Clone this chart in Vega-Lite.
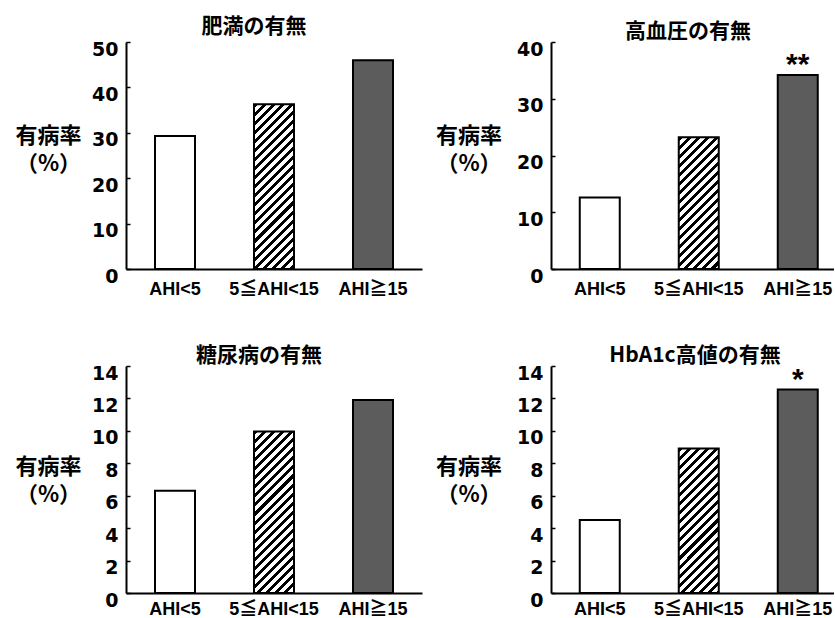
{
  "$schema": "https://vega.github.io/schema/vega-lite/v6.json",
  "background": "white",
  "padding": {"left": 14, "top": 16, "right": 0, "bottom": 0},
  "data": {"values": [
    {"panel": "obesity", "group": "AHI<5", "value": 29.3, "sig": ""},
    {"panel": "obesity", "group": "5≦AHI<15", "value": 36.3, "sig": ""},
    {"panel": "obesity", "group": "AHI≧15", "value": 46.0, "sig": ""},
    {"panel": "hypertension", "group": "AHI<5", "value": 12.6, "sig": ""},
    {"panel": "hypertension", "group": "5≦AHI<15", "value": 23.2, "sig": ""},
    {"panel": "hypertension", "group": "AHI≧15", "value": 34.2, "sig": "**"},
    {"panel": "diabetes", "group": "AHI<5", "value": 6.3, "sig": ""},
    {"panel": "diabetes", "group": "5≦AHI<15", "value": 9.96, "sig": ""},
    {"panel": "diabetes", "group": "AHI≧15", "value": 11.9, "sig": ""},
    {"panel": "hba1c", "group": "AHI<5", "value": 4.5, "sig": ""},
    {"panel": "hba1c", "group": "5≦AHI<15", "value": 8.91, "sig": ""},
    {"panel": "hba1c", "group": "AHI≧15", "value": 12.55, "sig": "*"}
  ]},
  "columns": 2,
  "spacing": {"row": 97, "column": 129},
  "bounds": "flush",
  "config": {
    "view": {"stroke": null},
    "title": {"font": "Noto Sans CJK JP", "fontSize": 21, "fontWeight": "bold", "color": "black", "baseline": "alphabetic", "offset": -2, "frame": "group", "anchor": "middle"},
    "axis": {"grid": false, "domainColor": "black", "domainWidth": 2, "labelColor": "black", "titleColor": "black", "tickColor": "black"},
    "axisX": {"ticks": false, "tickSize": 0, "labelAngle": 0, "labelFont": "Liberation Sans, Noto Sans CJK JP", "labelFontSize": 18, "labelFontWeight": "bold", "labelPadding": 11},
    "axisY": {"tickSize": -4, "tickWidth": 1.5, "labelFont": "DejaVu Sans", "labelFontSize": 19, "labelFontWeight": "bold", "labelPadding": 12, "labelOffset": 7, "titleAngle": 0, "titleFont": "Noto Sans CJK JP", "titleFontSize": 22, "titleFontWeight": "bold", "titleAlign": "center", "titleBaseline": "alphabetic", "titleLineHeight": 28}
  },
  "concat": [
    {
      "width": 296, "height": 227,
      "title": {"text": "肥満の有無", "dx": -20},
      "transform": [{"filter": "datum.panel === 'obesity'"}],
      "encoding": {
        "x": {"field": "group", "type": "nominal", "sort": ["AHI<5", "5≦AHI<15", "AHI≧15"], "title": null,
              "scale": {"paddingInner": 0.596, "paddingOuter": 0.293, "align": 0.5, "round": false}},
        "y": {"field": "value", "type": "quantitative", "scale": {"domain": [0, 50], "nice": false},
              "axis": {"values": [0, 10, 20, 30, 40, 50], "title": ["有病率", "（%）"], "titleX": -78, "titleY": 100}}
      },
      "layer": [
        {"mark": {"type": "bar", "stroke": "black", "strokeWidth": 2},
         "encoding": {"fill": {"condition": [
            {"test": "datum.group === '5≦AHI<15'", "value": {"gradient": "linear", "x1": 0, "y1": 0, "x2": 0.3147, "y2": 1.2966, "stops": [
              {"offset": 0, "color": "#000"}, {"offset": 0.018, "color": "#000"}, {"offset": 0.018, "color": "#fff"}, {"offset": 0.04, "color": "#fff"},
              {"offset": 0.04, "color": "#000"}, {"offset": 0.058, "color": "#000"}, {"offset": 0.058, "color": "#fff"}, {"offset": 0.08, "color": "#fff"},
              {"offset": 0.08, "color": "#000"}, {"offset": 0.098, "color": "#000"}, {"offset": 0.098, "color": "#fff"}, {"offset": 0.12, "color": "#fff"},
              {"offset": 0.12, "color": "#000"}, {"offset": 0.138, "color": "#000"}, {"offset": 0.138, "color": "#fff"}, {"offset": 0.16, "color": "#fff"},
              {"offset": 0.16, "color": "#000"}, {"offset": 0.178, "color": "#000"}, {"offset": 0.178, "color": "#fff"}, {"offset": 0.2, "color": "#fff"},
              {"offset": 0.2, "color": "#000"}, {"offset": 0.218, "color": "#000"}, {"offset": 0.218, "color": "#fff"}, {"offset": 0.24, "color": "#fff"},
              {"offset": 0.24, "color": "#000"}, {"offset": 0.258, "color": "#000"}, {"offset": 0.258, "color": "#fff"}, {"offset": 0.28, "color": "#fff"},
              {"offset": 0.28, "color": "#000"}, {"offset": 0.298, "color": "#000"}, {"offset": 0.298, "color": "#fff"}, {"offset": 0.32, "color": "#fff"},
              {"offset": 0.32, "color": "#000"}, {"offset": 0.338, "color": "#000"}, {"offset": 0.338, "color": "#fff"}, {"offset": 0.36, "color": "#fff"},
              {"offset": 0.36, "color": "#000"}, {"offset": 0.378, "color": "#000"}, {"offset": 0.378, "color": "#fff"}, {"offset": 0.4, "color": "#fff"},
              {"offset": 0.4, "color": "#000"}, {"offset": 0.418, "color": "#000"}, {"offset": 0.418, "color": "#fff"}, {"offset": 0.44, "color": "#fff"},
              {"offset": 0.44, "color": "#000"}, {"offset": 0.458, "color": "#000"}, {"offset": 0.458, "color": "#fff"}, {"offset": 0.48, "color": "#fff"},
              {"offset": 0.48, "color": "#000"}, {"offset": 0.498, "color": "#000"}, {"offset": 0.498, "color": "#fff"}, {"offset": 0.52, "color": "#fff"},
              {"offset": 0.52, "color": "#000"}, {"offset": 0.538, "color": "#000"}, {"offset": 0.538, "color": "#fff"}, {"offset": 0.56, "color": "#fff"},
              {"offset": 0.56, "color": "#000"}, {"offset": 0.578, "color": "#000"}, {"offset": 0.578, "color": "#fff"}, {"offset": 0.6, "color": "#fff"},
              {"offset": 0.6, "color": "#000"}, {"offset": 0.618, "color": "#000"}, {"offset": 0.618, "color": "#fff"}, {"offset": 0.64, "color": "#fff"},
              {"offset": 0.64, "color": "#000"}, {"offset": 0.658, "color": "#000"}, {"offset": 0.658, "color": "#fff"}, {"offset": 0.68, "color": "#fff"},
              {"offset": 0.68, "color": "#000"}, {"offset": 0.698, "color": "#000"}, {"offset": 0.698, "color": "#fff"}, {"offset": 0.72, "color": "#fff"},
              {"offset": 0.72, "color": "#000"}, {"offset": 0.738, "color": "#000"}, {"offset": 0.738, "color": "#fff"}, {"offset": 0.76, "color": "#fff"},
              {"offset": 0.76, "color": "#000"}, {"offset": 0.778, "color": "#000"}, {"offset": 0.778, "color": "#fff"}, {"offset": 0.8, "color": "#fff"},
              {"offset": 0.8, "color": "#000"}, {"offset": 0.818, "color": "#000"}, {"offset": 0.818, "color": "#fff"}, {"offset": 0.84, "color": "#fff"},
              {"offset": 0.84, "color": "#000"}, {"offset": 0.858, "color": "#000"}, {"offset": 0.858, "color": "#fff"}, {"offset": 0.88, "color": "#fff"},
              {"offset": 0.88, "color": "#000"}, {"offset": 0.898, "color": "#000"}, {"offset": 0.898, "color": "#fff"}, {"offset": 0.92, "color": "#fff"},
              {"offset": 0.92, "color": "#000"}, {"offset": 0.938, "color": "#000"}, {"offset": 0.938, "color": "#fff"}, {"offset": 0.96, "color": "#fff"}
            ]}},
            {"test": "datum.group === 'AHI≧15'", "value": "#5c5c5c"}
          ], "value": "white"}}},
        {"mark": {"type": "text", "font": "Liberation Sans", "fontSize": 30, "fontWeight": "bold", "baseline": "alphabetic", "dy": -1, "color": "black"},
         "encoding": {"text": {"field": "sig"}}}
      ]
    },
    {
      "width": 283, "height": 227,
      "title": {"text": "高血圧の有無", "dx": -4.5},
      "transform": [{"filter": "datum.panel === 'hypertension'"}],
      "encoding": {
        "x": {"field": "group", "type": "nominal", "sort": ["AHI<5", "5≦AHI<15", "AHI≧15"], "title": null,
              "scale": {"paddingInner": 0.596, "paddingOuter": 0.2273, "align": 0.639, "round": false}},
        "y": {"field": "value", "type": "quantitative", "scale": {"domain": [0, 40], "nice": false},
              "axis": {"values": [0, 10, 20, 30, 40], "title": ["有病率", "（%）"], "titleX": -82.5, "titleY": 100}}
      },
      "layer": [
        {"mark": {"type": "bar", "stroke": "black", "strokeWidth": 2},
         "encoding": {"fill": {"condition": [
            {"test": "datum.group === '5≦AHI<15'", "value": {"gradient": "linear", "x1": 0, "y1": 0, "x2": 0.4778, "y2": 1.573, "stops": [
              {"offset": 0, "color": "#000"}, {"offset": 0.018, "color": "#000"}, {"offset": 0.018, "color": "#fff"}, {"offset": 0.04, "color": "#fff"},
              {"offset": 0.04, "color": "#000"}, {"offset": 0.058, "color": "#000"}, {"offset": 0.058, "color": "#fff"}, {"offset": 0.08, "color": "#fff"},
              {"offset": 0.08, "color": "#000"}, {"offset": 0.098, "color": "#000"}, {"offset": 0.098, "color": "#fff"}, {"offset": 0.12, "color": "#fff"},
              {"offset": 0.12, "color": "#000"}, {"offset": 0.138, "color": "#000"}, {"offset": 0.138, "color": "#fff"}, {"offset": 0.16, "color": "#fff"},
              {"offset": 0.16, "color": "#000"}, {"offset": 0.178, "color": "#000"}, {"offset": 0.178, "color": "#fff"}, {"offset": 0.2, "color": "#fff"},
              {"offset": 0.2, "color": "#000"}, {"offset": 0.218, "color": "#000"}, {"offset": 0.218, "color": "#fff"}, {"offset": 0.24, "color": "#fff"},
              {"offset": 0.24, "color": "#000"}, {"offset": 0.258, "color": "#000"}, {"offset": 0.258, "color": "#fff"}, {"offset": 0.28, "color": "#fff"},
              {"offset": 0.28, "color": "#000"}, {"offset": 0.298, "color": "#000"}, {"offset": 0.298, "color": "#fff"}, {"offset": 0.32, "color": "#fff"},
              {"offset": 0.32, "color": "#000"}, {"offset": 0.338, "color": "#000"}, {"offset": 0.338, "color": "#fff"}, {"offset": 0.36, "color": "#fff"},
              {"offset": 0.36, "color": "#000"}, {"offset": 0.378, "color": "#000"}, {"offset": 0.378, "color": "#fff"}, {"offset": 0.4, "color": "#fff"},
              {"offset": 0.4, "color": "#000"}, {"offset": 0.418, "color": "#000"}, {"offset": 0.418, "color": "#fff"}, {"offset": 0.44, "color": "#fff"},
              {"offset": 0.44, "color": "#000"}, {"offset": 0.458, "color": "#000"}, {"offset": 0.458, "color": "#fff"}, {"offset": 0.48, "color": "#fff"},
              {"offset": 0.48, "color": "#000"}, {"offset": 0.498, "color": "#000"}, {"offset": 0.498, "color": "#fff"}, {"offset": 0.52, "color": "#fff"},
              {"offset": 0.52, "color": "#000"}, {"offset": 0.538, "color": "#000"}, {"offset": 0.538, "color": "#fff"}, {"offset": 0.56, "color": "#fff"},
              {"offset": 0.56, "color": "#000"}, {"offset": 0.578, "color": "#000"}, {"offset": 0.578, "color": "#fff"}, {"offset": 0.6, "color": "#fff"},
              {"offset": 0.6, "color": "#000"}, {"offset": 0.618, "color": "#000"}, {"offset": 0.618, "color": "#fff"}, {"offset": 0.64, "color": "#fff"},
              {"offset": 0.64, "color": "#000"}, {"offset": 0.658, "color": "#000"}, {"offset": 0.658, "color": "#fff"}, {"offset": 0.68, "color": "#fff"},
              {"offset": 0.68, "color": "#000"}, {"offset": 0.698, "color": "#000"}, {"offset": 0.698, "color": "#fff"}, {"offset": 0.72, "color": "#fff"},
              {"offset": 0.72, "color": "#000"}, {"offset": 0.738, "color": "#000"}, {"offset": 0.738, "color": "#fff"}, {"offset": 0.76, "color": "#fff"},
              {"offset": 0.76, "color": "#000"}, {"offset": 0.778, "color": "#000"}, {"offset": 0.778, "color": "#fff"}, {"offset": 0.8, "color": "#fff"}
            ]}},
            {"test": "datum.group === 'AHI≧15'", "value": "#5c5c5c"}
          ], "value": "white"}}},
        {"mark": {"type": "text", "font": "Liberation Sans", "fontSize": 30, "fontWeight": "bold", "baseline": "alphabetic", "dy": -1, "color": "black"},
         "encoding": {"text": {"field": "sig"}}}
      ]
    },
    {
      "width": 296, "height": 227,
      "title": {"text": "糖尿病の有無", "dx": -15},
      "transform": [{"filter": "datum.panel === 'diabetes'"}],
      "encoding": {
        "x": {"field": "group", "type": "nominal", "sort": ["AHI<5", "5≦AHI<15", "AHI≧15"], "title": null,
              "axis": {"labelPadding": 7},
              "scale": {"paddingInner": 0.596, "paddingOuter": 0.293, "align": 0.5, "round": false}},
        "y": {"field": "value", "type": "quantitative", "scale": {"domain": [0, 14], "nice": false},
              "axis": {"values": [0, 2, 4, 6, 8, 10, 12, 14], "title": ["有病率", "（%）"], "titleX": -78, "titleY": 107}}
      },
      "layer": [
        {"mark": {"type": "bar", "stroke": "black", "strokeWidth": 2},
         "encoding": {"fill": {"condition": [
            {"test": "datum.group === '5≦AHI<15'", "value": {"gradient": "linear", "x1": 0, "y1": 0, "x2": 0.327, "y2": 1.3201, "stops": [
              {"offset": 0, "color": "#000"}, {"offset": 0.018, "color": "#000"}, {"offset": 0.018, "color": "#fff"}, {"offset": 0.04, "color": "#fff"},
              {"offset": 0.04, "color": "#000"}, {"offset": 0.058, "color": "#000"}, {"offset": 0.058, "color": "#fff"}, {"offset": 0.08, "color": "#fff"},
              {"offset": 0.08, "color": "#000"}, {"offset": 0.098, "color": "#000"}, {"offset": 0.098, "color": "#fff"}, {"offset": 0.12, "color": "#fff"},
              {"offset": 0.12, "color": "#000"}, {"offset": 0.138, "color": "#000"}, {"offset": 0.138, "color": "#fff"}, {"offset": 0.16, "color": "#fff"},
              {"offset": 0.16, "color": "#000"}, {"offset": 0.178, "color": "#000"}, {"offset": 0.178, "color": "#fff"}, {"offset": 0.2, "color": "#fff"},
              {"offset": 0.2, "color": "#000"}, {"offset": 0.218, "color": "#000"}, {"offset": 0.218, "color": "#fff"}, {"offset": 0.24, "color": "#fff"},
              {"offset": 0.24, "color": "#000"}, {"offset": 0.258, "color": "#000"}, {"offset": 0.258, "color": "#fff"}, {"offset": 0.28, "color": "#fff"},
              {"offset": 0.28, "color": "#000"}, {"offset": 0.298, "color": "#000"}, {"offset": 0.298, "color": "#fff"}, {"offset": 0.32, "color": "#fff"},
              {"offset": 0.32, "color": "#000"}, {"offset": 0.338, "color": "#000"}, {"offset": 0.338, "color": "#fff"}, {"offset": 0.36, "color": "#fff"},
              {"offset": 0.36, "color": "#000"}, {"offset": 0.378, "color": "#000"}, {"offset": 0.378, "color": "#fff"}, {"offset": 0.4, "color": "#fff"},
              {"offset": 0.4, "color": "#000"}, {"offset": 0.418, "color": "#000"}, {"offset": 0.418, "color": "#fff"}, {"offset": 0.44, "color": "#fff"},
              {"offset": 0.44, "color": "#000"}, {"offset": 0.458, "color": "#000"}, {"offset": 0.458, "color": "#fff"}, {"offset": 0.48, "color": "#fff"},
              {"offset": 0.48, "color": "#000"}, {"offset": 0.498, "color": "#000"}, {"offset": 0.498, "color": "#fff"}, {"offset": 0.52, "color": "#fff"},
              {"offset": 0.52, "color": "#000"}, {"offset": 0.538, "color": "#000"}, {"offset": 0.538, "color": "#fff"}, {"offset": 0.56, "color": "#fff"},
              {"offset": 0.56, "color": "#000"}, {"offset": 0.578, "color": "#000"}, {"offset": 0.578, "color": "#fff"}, {"offset": 0.6, "color": "#fff"},
              {"offset": 0.6, "color": "#000"}, {"offset": 0.618, "color": "#000"}, {"offset": 0.618, "color": "#fff"}, {"offset": 0.64, "color": "#fff"},
              {"offset": 0.64, "color": "#000"}, {"offset": 0.658, "color": "#000"}, {"offset": 0.658, "color": "#fff"}, {"offset": 0.68, "color": "#fff"},
              {"offset": 0.68, "color": "#000"}, {"offset": 0.698, "color": "#000"}, {"offset": 0.698, "color": "#fff"}, {"offset": 0.72, "color": "#fff"},
              {"offset": 0.72, "color": "#000"}, {"offset": 0.738, "color": "#000"}, {"offset": 0.738, "color": "#fff"}, {"offset": 0.76, "color": "#fff"},
              {"offset": 0.76, "color": "#000"}, {"offset": 0.778, "color": "#000"}, {"offset": 0.778, "color": "#fff"}, {"offset": 0.8, "color": "#fff"},
              {"offset": 0.8, "color": "#000"}, {"offset": 0.818, "color": "#000"}, {"offset": 0.818, "color": "#fff"}, {"offset": 0.84, "color": "#fff"},
              {"offset": 0.84, "color": "#000"}, {"offset": 0.858, "color": "#000"}, {"offset": 0.858, "color": "#fff"}, {"offset": 0.88, "color": "#fff"},
              {"offset": 0.88, "color": "#000"}, {"offset": 0.898, "color": "#000"}, {"offset": 0.898, "color": "#fff"}, {"offset": 0.92, "color": "#fff"}
            ]}},
            {"test": "datum.group === 'AHI≧15'", "value": "#5c5c5c"}
          ], "value": "white"}}},
        {"mark": {"type": "text", "font": "Liberation Sans", "fontSize": 30, "fontWeight": "bold", "baseline": "alphabetic", "dy": -1, "color": "black"},
         "encoding": {"text": {"field": "sig"}}}
      ]
    },
    {
      "width": 283, "height": 227,
      "title": {"text": "HbA1c高値の有無", "dx": 2.5},
      "transform": [{"filter": "datum.panel === 'hba1c'"}],
      "encoding": {
        "x": {"field": "group", "type": "nominal", "sort": ["AHI<5", "5≦AHI<15", "AHI≧15"], "title": null,
              "axis": {"labelPadding": 7},
              "scale": {"paddingInner": 0.596, "paddingOuter": 0.2273, "align": 0.639, "round": false}},
        "y": {"field": "value", "type": "quantitative", "scale": {"domain": [0, 14], "nice": false},
              "axis": {"values": [0, 2, 4, 6, 8, 10, 12, 14], "title": ["有病率", "（%）"], "titleX": -82.5, "titleY": 107}}
      },
      "layer": [
        {"mark": {"type": "bar", "stroke": "black", "strokeWidth": 2},
         "encoding": {"fill": {"condition": [
            {"test": "datum.group === '5≦AHI<15'", "value": {"gradient": "linear", "x1": 0, "y1": 0, "x2": 0.4031, "y2": 1.4553, "stops": [
              {"offset": 0, "color": "#000"}, {"offset": 0.018, "color": "#000"}, {"offset": 0.018, "color": "#fff"}, {"offset": 0.04, "color": "#fff"},
              {"offset": 0.04, "color": "#000"}, {"offset": 0.058, "color": "#000"}, {"offset": 0.058, "color": "#fff"}, {"offset": 0.08, "color": "#fff"},
              {"offset": 0.08, "color": "#000"}, {"offset": 0.098, "color": "#000"}, {"offset": 0.098, "color": "#fff"}, {"offset": 0.12, "color": "#fff"},
              {"offset": 0.12, "color": "#000"}, {"offset": 0.138, "color": "#000"}, {"offset": 0.138, "color": "#fff"}, {"offset": 0.16, "color": "#fff"},
              {"offset": 0.16, "color": "#000"}, {"offset": 0.178, "color": "#000"}, {"offset": 0.178, "color": "#fff"}, {"offset": 0.2, "color": "#fff"},
              {"offset": 0.2, "color": "#000"}, {"offset": 0.218, "color": "#000"}, {"offset": 0.218, "color": "#fff"}, {"offset": 0.24, "color": "#fff"},
              {"offset": 0.24, "color": "#000"}, {"offset": 0.258, "color": "#000"}, {"offset": 0.258, "color": "#fff"}, {"offset": 0.28, "color": "#fff"},
              {"offset": 0.28, "color": "#000"}, {"offset": 0.298, "color": "#000"}, {"offset": 0.298, "color": "#fff"}, {"offset": 0.32, "color": "#fff"},
              {"offset": 0.32, "color": "#000"}, {"offset": 0.338, "color": "#000"}, {"offset": 0.338, "color": "#fff"}, {"offset": 0.36, "color": "#fff"},
              {"offset": 0.36, "color": "#000"}, {"offset": 0.378, "color": "#000"}, {"offset": 0.378, "color": "#fff"}, {"offset": 0.4, "color": "#fff"},
              {"offset": 0.4, "color": "#000"}, {"offset": 0.418, "color": "#000"}, {"offset": 0.418, "color": "#fff"}, {"offset": 0.44, "color": "#fff"},
              {"offset": 0.44, "color": "#000"}, {"offset": 0.458, "color": "#000"}, {"offset": 0.458, "color": "#fff"}, {"offset": 0.48, "color": "#fff"},
              {"offset": 0.48, "color": "#000"}, {"offset": 0.498, "color": "#000"}, {"offset": 0.498, "color": "#fff"}, {"offset": 0.52, "color": "#fff"},
              {"offset": 0.52, "color": "#000"}, {"offset": 0.538, "color": "#000"}, {"offset": 0.538, "color": "#fff"}, {"offset": 0.56, "color": "#fff"},
              {"offset": 0.56, "color": "#000"}, {"offset": 0.578, "color": "#000"}, {"offset": 0.578, "color": "#fff"}, {"offset": 0.6, "color": "#fff"},
              {"offset": 0.6, "color": "#000"}, {"offset": 0.618, "color": "#000"}, {"offset": 0.618, "color": "#fff"}, {"offset": 0.64, "color": "#fff"},
              {"offset": 0.64, "color": "#000"}, {"offset": 0.658, "color": "#000"}, {"offset": 0.658, "color": "#fff"}, {"offset": 0.68, "color": "#fff"},
              {"offset": 0.68, "color": "#000"}, {"offset": 0.698, "color": "#000"}, {"offset": 0.698, "color": "#fff"}, {"offset": 0.72, "color": "#fff"},
              {"offset": 0.72, "color": "#000"}, {"offset": 0.738, "color": "#000"}, {"offset": 0.738, "color": "#fff"}, {"offset": 0.76, "color": "#fff"},
              {"offset": 0.76, "color": "#000"}, {"offset": 0.778, "color": "#000"}, {"offset": 0.778, "color": "#fff"}, {"offset": 0.8, "color": "#fff"},
              {"offset": 0.8, "color": "#000"}, {"offset": 0.818, "color": "#000"}, {"offset": 0.818, "color": "#fff"}, {"offset": 0.84, "color": "#fff"}
            ]}},
            {"test": "datum.group === 'AHI≧15'", "value": "#5c5c5c"}
          ], "value": "white"}}},
        {"mark": {"type": "text", "font": "Liberation Sans", "fontSize": 30, "fontWeight": "bold", "baseline": "alphabetic", "dy": -1, "color": "black"},
         "encoding": {"text": {"field": "sig"}}}
      ]
    }
  ]
}
